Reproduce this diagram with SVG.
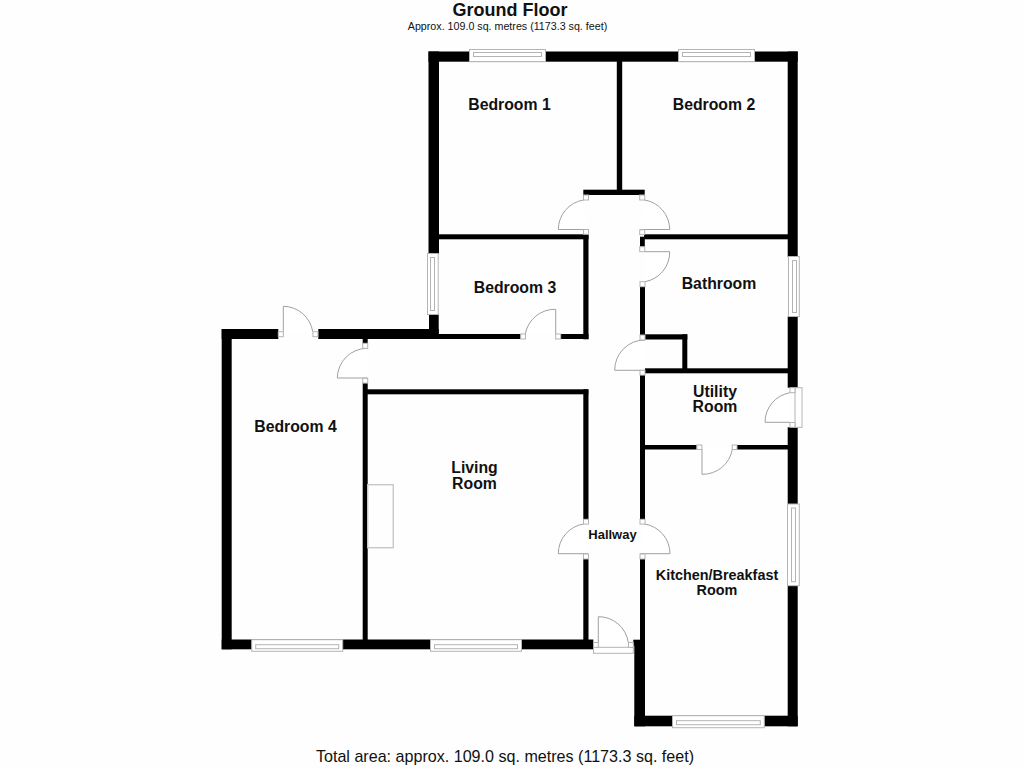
<svg xmlns="http://www.w3.org/2000/svg" width="1024" height="768" viewBox="0 0 1024 768">
<style>
.w{fill:#000}
.win,.in,.sq,.thr{fill:#fff;stroke:#b4b4b4;stroke-width:1}
.in{fill:none}
.d{fill:#fff;stroke:#a0a0a0;stroke-width:1}
.fp{fill:none;stroke:#c8c8c8;stroke-width:1.4}
text{font-family:"Liberation Sans",Arial,sans-serif;fill:#111;text-anchor:middle}
.lb{font-size:15.8px;font-weight:700}
.hw{font-size:13px;font-weight:700}
.kt{font-size:14.4px;font-weight:700}
</style>
<rect width="1024" height="768" fill="#fefefe"/>
<g id="walls">
<rect class="w" x="428.5" y="51.5" width="369.2" height="10.2"/>
<rect class="w" x="428.5" y="51.5" width="10.5" height="202"/>
<rect class="w" x="429" y="314.5" width="9.7" height="24.5"/>
<rect class="w" x="787.7" y="51.5" width="10" height="205.5"/>
<rect class="w" x="787.7" y="316.5" width="10" height="71.2"/>
<rect class="w" x="787.7" y="427.3" width="10" height="77"/>
<rect class="w" x="787.7" y="585.5" width="10" height="140.8"/>
<rect class="w" x="616.8" y="61" width="5.4" height="130"/>
<rect class="w" x="583.3" y="189.7" width="61.4" height="5.3"/>
<rect class="w" x="439" y="234.3" width="149.5" height="5"/>
<rect class="w" x="583.3" y="234.3" width="5.2" height="105"/>
<rect class="w" x="640" y="236.7" width="4.8" height="10"/>
<rect class="w" x="644" y="234.3" width="144" height="5"/>
<rect class="w" x="221.7" y="329" width="56.6" height="10"/>
<rect class="w" x="318.3" y="329" width="120.4" height="10"/>
<rect class="w" x="438" y="334" width="82.7" height="5"/>
<rect class="w" x="560.7" y="334" width="27.8" height="5"/>
<rect class="w" x="221.7" y="329" width="10" height="320.3"/>
<rect class="w" x="362.7" y="338" width="5" height="5.5"/>
<rect class="w" x="362.7" y="383" width="5" height="258"/>
<rect class="w" x="365" y="389.3" width="223.3" height="5"/>
<rect class="w" x="583.3" y="389.3" width="5.2" height="130"/>
<rect class="w" x="583.3" y="559" width="5.2" height="82"/>
<rect class="w" x="221.7" y="639.5" width="371.6" height="9.8"/>
<rect class="w" x="640" y="286.7" width="5" height="48.3"/>
<rect class="w" x="645" y="334.3" width="42.3" height="5.2"/>
<rect class="w" x="682.3" y="334.3" width="5" height="35"/>
<rect class="w" x="645" y="368.3" width="143" height="5"/>
<rect class="w" x="640" y="375" width="5" height="144.3"/>
<rect class="w" x="645" y="445" width="51.7" height="4.5"/>
<rect class="w" x="737" y="445" width="51" height="4.5"/>
<rect class="w" x="640" y="559" width="5" height="81"/>
<rect class="w" x="633.3" y="639.7" width="11.7" height="6"/>
<rect class="w" x="634.3" y="640" width="10.7" height="86.3"/>
<rect class="w" x="634.3" y="715.7" width="163.4" height="10.6"/>
</g>
<g id="windows">
<g id="window-bedroom1"><rect class="win" x="469.5" y="49.5" width="76" height="12.2"/><rect class="in" x="473.5" y="52.5" width="68" height="4"/></g>
<g id="window-bedroom2"><rect class="win" x="678.5" y="49.5" width="76" height="12.2"/><rect class="in" x="682.5" y="52.5" width="68" height="4"/></g>
<g id="window-bedroom3"><rect class="win" x="427.5" y="253.5" width="10.7" height="61"/><rect class="in" x="430.5" y="257.5" width="4" height="53"/></g>
<g id="window-bathroom"><rect class="win" x="788.5" y="256.5" width="10.8" height="60"/><rect class="in" x="792.5" y="260.5" width="4" height="52"/></g>
<g id="window-kitchen-side"><rect class="win" x="787.5" y="504" width="11.8" height="81.7"/><rect class="in" x="791.5" y="508" width="4" height="73.7"/></g>
<g id="window-kitchen"><rect class="win" x="672.5" y="715.7" width="91.8" height="12"/><rect class="in" x="676.5" y="720.7" width="83.8" height="4"/></g>
<g id="window-bedroom4"><rect class="win" x="251.7" y="639.7" width="91" height="11.6"/><rect class="in" x="255.7" y="644.7" width="83" height="4"/></g>
<g id="window-living"><rect class="win" x="430.5" y="639.7" width="91" height="11.6"/><rect class="in" x="434.5" y="644.7" width="83" height="4"/></g>
</g>
<g id="doors">
<g id="door-bedroom1"><path class="d" d="M583.5 200A30 30 0 0 0 558.3 229.5H588"/><rect class="sq" x="583.5" y="195" width="5" height="5"/><rect class="sq" x="583.5" y="229.5" width="5" height="4.8"/></g>
<g id="door-bedroom2"><path class="d" d="M644.5 200A30 30 0 0 1 669.7 229.5H640"/><rect class="sq" x="639.7" y="195" width="5" height="5"/><rect class="sq" x="639.7" y="229.8" width="5" height="4.8"/><rect class="sq" x="639.7" y="246.7" width="5" height="5"/></g>
<g id="door-bathroom"><path class="d" d="M645 251.7H669.7A30 30 0 0 1 645 281.7"/><rect class="sq" x="640" y="281.7" width="5" height="5"/></g>
<g id="door-bedroom3"><path class="d" d="M525.3 334A30 30 0 0 1 555.7 309.3V334"/><rect class="sq" x="520.7" y="334" width="4.8" height="5"/><rect class="sq" x="555.7" y="334" width="5" height="5"/></g>
<g id="door-external"><path class="d" d="M283.3 331.5V306.3A30 30 0 0 1 312.7 331.5"/><rect class="sq" x="278.3" y="331.7" width="5" height="5"/><rect class="sq" x="312.9" y="331.7" width="5" height="5"/></g>
<g id="door-bedroom4"><path class="d" d="M367.5 348.3A30 30 0 0 0 337.3 378H367.5"/><rect class="sq" x="362.7" y="343.3" width="5" height="5"/><rect class="sq" x="362.7" y="378.3" width="5" height="4.8"/></g>
<g id="door-cupboard"><path class="d" d="M645 340A30 30 0 0 0 614.7 370.3H645"/><rect class="sq" x="640" y="335" width="5" height="5"/><rect class="sq" x="640" y="370.3" width="5" height="4.8"/></g>
<g id="door-utility-external"><rect class="thr" x="795" y="387.7" width="7" height="39.6"/><path class="d" d="M790 392.7A30 30 0 0 0 765 422.3H790"/><rect class="sq" x="790" y="387.7" width="5" height="5"/><rect class="sq" x="790" y="422.5" width="5" height="4.8"/></g>
<g id="door-kitchen"><path class="d" d="M702 449.5V474.3A30 30 0 0 0 732.3 449.5"/><rect class="sq" x="696.9" y="445" width="5" height="4.5"/><rect class="sq" x="732.2" y="445" width="4.8" height="4.5"/></g>
<g id="door-living"><path class="d" d="M583.5 524A30 30 0 0 0 558.3 553.7H588"/><rect class="sq" x="583.5" y="519.3" width="5" height="4.8"/><rect class="sq" x="583.5" y="554" width="5" height="5"/></g>
<g id="door-hall-kitchen"><path class="d" d="M644.5 524A30 30 0 0 1 670 553.7H640"/><rect class="sq" x="640" y="519.3" width="5" height="4.8"/><rect class="sq" x="640" y="554" width="5" height="5"/></g>
<g id="door-front"><rect class="thr" x="593.5" y="647.3" width="39.8" height="6"/><path class="d" d="M598.3 642.5V616.7A30 30 0 0 1 628.3 642.5"/><rect class="sq" x="593.5" y="642.5" width="4.8" height="4.8"/><rect class="sq" x="628.5" y="642.5" width="4.8" height="4.8"/></g>
</g>
<rect id="fireplace" class="fp" x="367.7" y="484.7" width="25.6" height="63"/>
<g id="labels">
<text x="510" y="16" font-size="18" font-weight="700">Ground Floor</text>
<text x="507.5" y="30" font-size="10.7">Approx. 109.0 sq. metres (1173.3 sq. feet)</text>
<text x="509.5" y="110" class="lb">Bedroom 1</text>
<text x="714" y="110" class="lb">Bedroom 2</text>
<text x="515" y="293" class="lb">Bedroom 3</text>
<text x="719" y="289" class="lb">Bathroom</text>
<text x="715" y="397" class="lb">Utility</text>
<text x="715" y="412" class="lb">Room</text>
<text x="295.5" y="432" class="lb">Bedroom 4</text>
<text x="474.5" y="473" class="lb">Living</text>
<text x="474.5" y="489" class="lb">Room</text>
<text x="612.5" y="539" class="hw">Hallway</text>
<text x="717" y="580" class="kt">Kitchen/Breakfast</text>
<text x="717" y="595" class="kt">Room</text>
<text x="505" y="762" font-size="16.1">Total area: approx. 109.0 sq. metres (1173.3 sq. feet)</text>
</g>
</svg>
